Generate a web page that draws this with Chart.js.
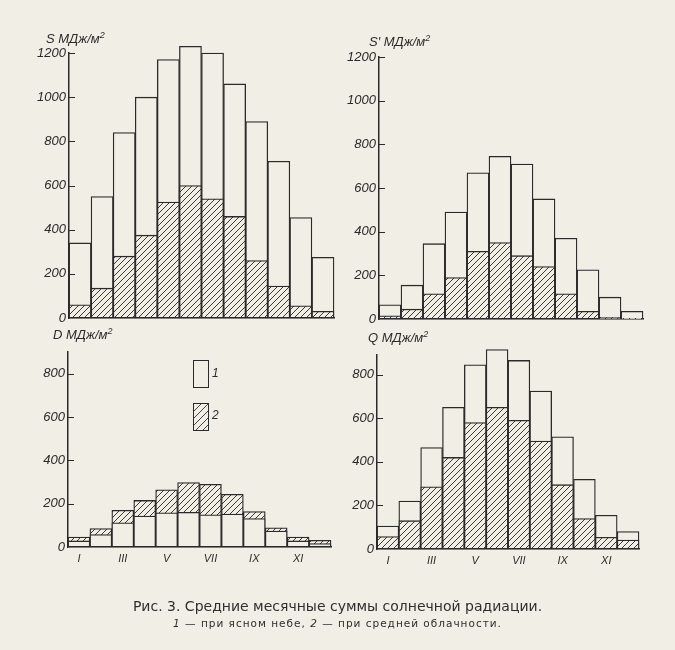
<!DOCTYPE html>
<html>
<head>
<meta charset="utf-8">
<script src="https://cdn.jsdelivr.net/npm/chart.js@4.4.1/dist/chart.umd.min.js"></script>
<style>
    body { margin: 0; background: #f1eee5; width: 675px; height: 650px; position: relative; overflow: hidden; }
    canvas { position: absolute; left: 0; top: 0; }
    .ttl { position: absolute; font: italic 13px 'Liberation Sans Narrow', 'Liberation Sans', sans-serif; color: #2a2a2a; white-space: nowrap; }
    .ttl sup { font-size: 9px; }
    .box { position: absolute; width: 14px; height: 26px; border: 1.3px solid #2a2a2a; background: #f1eee5; }
    .hatch { background: repeating-linear-gradient(-45deg, #f1eee5 0 3px, #444 3px 4px, #f1eee5 4px 5px); }
    .lg { position: absolute; font: italic 12px 'Liberation Sans', sans-serif; color: #2a2a2a; }
    .cap { position: absolute; left: 0; width: 675px; text-align: center; color: #2e2e2e; font-family: 'DejaVu Sans', sans-serif; }
</style>
</head>
<body>
<canvas id="chartS" width="675" height="650"></canvas>
<canvas id="chartS2" width="675" height="650"></canvas>
<canvas id="chartD" width="675" height="650"></canvas>
<canvas id="chartQ" width="675" height="650"></canvas>

<div class="ttl" style="left:46px; top:30px;">S МДж/м<sup>2</sup></div>
<div class="ttl" style="left:369px; top:33px;">S′ МДж/м<sup>2</sup></div>
<div class="ttl" style="left:53px; top:326px;">D МДж/м<sup>2</sup></div>
<div class="ttl" style="left:368px; top:329px;">Q МДж/м<sup>2</sup></div>

<div class="box" style="left:193px; top:360px;"></div>
<div class="lg" style="left:212px; top:366px;">1</div>
<div class="box hatch" style="left:193px; top:403px;"></div>
<div class="lg" style="left:212px; top:408px;">2</div>

<div class="cap" style="top:598px; font-size:14px;">Рис. 3. Средние месячные суммы солнечной радиации.</div>
<div class="cap" style="top:617px; font-size:10.5px; letter-spacing:1px;"><i>1</i> — при ясном небе, <i>2</i> — при средней облачности.</div>

<script>
// Months
const months = ['I', 'II', 'III', 'IV', 'V', 'VI', 'VII', 'VIII', 'IX', 'X', 'XI', 'XII'];

// S - direct radiation on normal surface (1 - clear sky, 2 - average cloudiness)
const sClear = [340, 550, 840, 1000, 1170, 1230, 1200, 1060, 890, 710, 455, 275];
const sCloudy = [60, 135, 280, 375, 525, 600, 540, 460, 260, 145, 55, 30];

// S' - direct radiation on horizontal surface
const s2Clear = [65, 155, 345, 490, 670, 745, 710, 550, 370, 225, 100, 35];
const s2Cloudy = [15, 45, 115, 190, 310, 350, 290, 240, 115, 35, 8, 3];

// D - diffuse radiation
const dClear = [28, 57, 112, 143, 158, 160, 149, 152, 131, 74, 28, 16];
const dCloudy = [46, 85, 169, 215, 264, 297, 289, 243, 164, 89, 46, 31];

// Q - total radiation
const qClear = [105, 220, 465, 650, 845, 915, 865, 725, 515, 320, 155, 80];
const qCloudy = [57, 130, 285, 420, 580, 650, 590, 495, 295, 140, 54, 41];

const PAPER = '#f1eee5';
const INK = '#2a2a2a';
const TICK_FONT = { family: "'Liberation Sans Narrow', 'Liberation Sans', sans-serif", size: 13, style: 'italic' };

// Diagonal hatch for "average cloudiness" bars
function makeHatch() {
    const s = 6;
    const c = document.createElement('canvas');
    c.width = s; c.height = s;
    const g = c.getContext('2d');
    g.fillStyle = PAPER;
    g.fillRect(0, 0, s, s);
    g.strokeStyle = '#3a3a3a';
    g.lineWidth = 1;
    g.beginPath();
    g.moveTo(0, s); g.lineTo(s, 0);
    g.moveTo(-1, 1); g.lineTo(1, -1);
    g.moveTo(s - 1, s + 1); g.lineTo(s + 1, s - 1);
    g.stroke();
    return g.createPattern(c, 'repeat');
}
const HATCH = makeHatch();

// Short tick marks pointing into the plot, like the original
const inwardTicks = {
    id: 'inwardTicks',
    afterDraw(chart) {
        const y = chart.scales.y;
        const ctx = chart.ctx;
        const left = chart.chartArea.left;
        ctx.save();
        ctx.strokeStyle = INK;
        ctx.lineWidth = 1.2;
        ctx.beginPath();
        y.ticks.forEach(t => {
            if (t.value === 0) return;
            const py = Math.round(y.getPixelForValue(t.value)) + 0.5;
            ctx.moveTo(left - 1, py);
            ctx.lineTo(left + 6, py);
        });
        ctx.stroke();
        ctx.restore();
    }
};

const Y_W = 40;

/**
 * One panel: full-page transparent canvas, chart area placed by padding
 */
function makePanel(id, area, clear, cloudy, cfg) {
    const xH = cfg.xLabels ? 24 : 0;
    const clearDs = {
        label: '1', data: clear, backgroundColor: PAPER,
        borderColor: INK, borderWidth: 1.3, borderSkipped: false, clip: false
    };
    const cloudyDs = {
        label: '2', data: cloudy, backgroundColor: HATCH,
        borderColor: INK, borderWidth: 1.3, borderSkipped: false, clip: false
    };
    // the first dataset is drawn on top
    const datasets = cfg.clearOnTop ? [clearDs, cloudyDs] : [cloudyDs, clearDs];

    return new Chart(document.getElementById(id), {
        type: 'bar',
        data: { labels: months, datasets },
        plugins: [inwardTicks],
        options: {
            responsive: false,
            animation: false,
            events: [],
            categoryPercentage: 1,
            barPercentage: 1,
            layout: {
                padding: {
                    left: area.left - Y_W,
                    top: area.top,
                    right: 675 - area.right,
                    bottom: 650 - area.bottom - xH
                }
            },
            plugins: { legend: { display: false }, tooltip: { enabled: false } },
            scales: {
                x: {
                    stacked: true,
                    grid: { display: false, drawTicks: false, tickLength: 0 },
                    border: { display: true, color: INK, width: 1.5 },
                    ticks: {
                        display: cfg.xLabels,
                        autoSkip: false,
                        maxRotation: 0,
                        padding: 5,
                        color: INK,
                        font: { family: "'Liberation Sans', sans-serif", size: 11, style: 'italic' },
                        callback: (v, i) => (i % 2 === 0 ? months[i] : '')
                    },
                    afterFit: s => {
                        s.height = xH;
                        s.paddingLeft = 0; s.paddingRight = 0;
                        s.paddingTop = 0; s.paddingBottom = 0;
                    }
                },
                y: {
                    stacked: false,
                    min: 0,
                    max: cfg.max,
                    grid: { display: false, drawTicks: false, tickLength: 0 },
                    border: { display: true, color: INK, width: 1.5 },
                    ticks: {
                        stepSize: 200, padding: 3, color: INK, font: TICK_FONT,
                        callback: v => String(v)
                    },
                    afterBuildTicks: s => {
                        s.ticks = s.ticks.filter(t => t.value % 200 === 0);
                    },
                    afterFit: s => {
                        s.width = Y_W;
                        s.paddingLeft = 0; s.paddingRight = 0;
                        s.paddingTop = 0; s.paddingBottom = 0;
                    }
                }
            }
        }
    });
}

makePanel('chartS', { left: 69, right: 334, top: 53, bottom: 318 }, sClear, sCloudy, { max: 1200, xLabels: false, clearOnTop: false });
makePanel('chartS2', { left: 379, right: 643, top: 57, bottom: 319 }, s2Clear, s2Cloudy, { max: 1200, xLabels: false, clearOnTop: false });
makePanel('chartD', { left: 68, right: 331, top: 352, bottom: 547 }, dClear, dCloudy, { max: 900, xLabels: true, clearOnTop: true });
makePanel('chartQ', { left: 377, right: 639, top: 355, bottom: 549 }, qClear, qCloudy, { max: 890, xLabels: true, clearOnTop: false });
</script>
</body>
</html>
